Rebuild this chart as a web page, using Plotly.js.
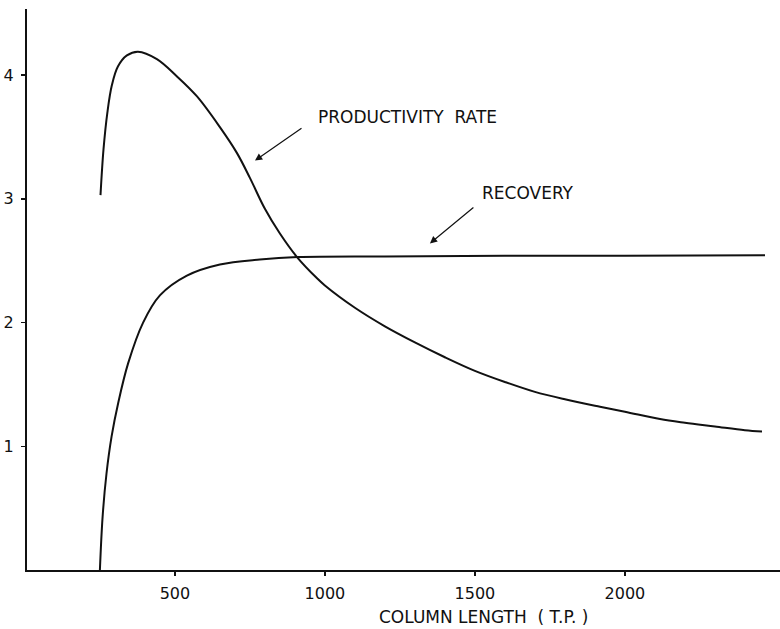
<!DOCTYPE html>
<html>
<head>
<meta charset="utf-8">
<script src="https://cdn.plot.ly/plotly-3.0.1.min.js"></script>
<style>html,body{margin:0;padding:0;background:#fff;}#chart{width:780px;height:629px;}</style>
</head>
<body>
<div id="chart"></div>
<script>
// Column length (theoretical plates) and curves
const prodX = [252, 262, 275, 290, 310, 340, 377, 440, 507, 573, 650, 707, 750, 800, 850, 907, 973, 1000, 1100, 1200, 1300, 1400, 1500, 1600, 1700, 1800, 1917, 2000, 2117, 2200, 2300, 2400, 2457];
const prodY = [3.03, 3.40, 3.70, 3.92, 4.07, 4.16, 4.19, 4.13, 3.99, 3.83, 3.58, 3.37, 3.17, 2.92, 2.72, 2.53, 2.36, 2.30, 2.12, 1.97, 1.84, 1.72, 1.61, 1.52, 1.44, 1.38, 1.32, 1.28, 1.22, 1.19, 1.16, 1.13, 1.12];
const recX = [250, 259, 272, 289, 311, 344, 394, 450, 540, 650, 783, 910, 1200, 1600, 2000, 2467];
const recY = [0, 0.43, 0.78, 1.08, 1.35, 1.67, 2.00, 2.22, 2.38, 2.47, 2.51, 2.53, 2.535, 2.54, 2.54, 2.545];
const xTicks = [500, 1000, 1500, 2000];
const yTicks = [1, 2, 3, 4];
const xTitle = "COLUMN LENGTH  ( T.P. )";
const prodLabel = "PRODUCTIVITY  RATE";
const recLabel = "RECOVERY";

const FONT = "DejaVu Sans, sans-serif";
const lineStyle = {color: "#111", width: 2, shape: "spline", smoothing: 1};

const traces = [
  {x: prodX, y: prodY, mode: "lines", line: lineStyle, hoverinfo: "skip"},
  {x: recX, y: recY, mode: "lines", line: lineStyle, hoverinfo: "skip"}
];

const layout = {
  width: 780, height: 629,
  margin: {l: 27, r: 0, t: 9, b: 59, pad: 0},
  paper_bgcolor: "#fff", plot_bgcolor: "#fff",
  showlegend: false,
  font: {family: FONT, size: 16, color: "#111"},
  xaxis: {
    range: [7, 2517], showgrid: false, zeroline: false,
    showline: true, linecolor: "#111", linewidth: 2,
    tickvals: xTicks, ticktext: xTicks.map(String),
    ticks: "outside", ticklen: 4, tickwidth: 1.5, tickcolor: "#111",
    ticklabelstandoff: 4,
    tickfont: {family: FONT, size: 16, color: "#111"}
  },
  yaxis: {
    range: [0, 4.535], showgrid: false, zeroline: false,
    showline: true, linecolor: "#111", linewidth: 2,
    tickvals: yTicks, ticktext: yTicks.map(String),
    ticks: "outside", ticklen: 4, tickwidth: 1.5, tickcolor: "#111",
    ticklabelstandoff: 4,
    tickfont: {family: FONT, size: 16, color: "#111"}
  },
  annotations: [
    {x: 1530, y: 0, xref: "x", yref: "y", yanchor: "top", yshift: -35,
     text: xTitle, showarrow: false, font: {family: FONT, size: 17, color: "#111"}},
    {x: 970, y: 3.66, xref: "x", yref: "y", xanchor: "left", yanchor: "middle",
     text: prodLabel, showarrow: false, font: {family: FONT, size: 17, color: "#111"}},
    {x: 767, y: 3.31, xref: "x", yref: "y", ax: 927, ay: 3.58, axref: "x", ayref: "y",
     text: "", showarrow: true, arrowhead: 2, arrowsize: 1.2, arrowwidth: 1.2, arrowcolor: "#111"},
    {x: 1517, y: 3.05, xref: "x", yref: "y", xanchor: "left", yanchor: "middle",
     text: recLabel, showarrow: false, font: {family: FONT, size: 17, color: "#111"}},
    {x: 1350, y: 2.64, xref: "x", yref: "y", ax: 1500, ay: 2.94, axref: "x", ayref: "y",
     text: "", showarrow: true, arrowhead: 2, arrowsize: 1.2, arrowwidth: 1.2, arrowcolor: "#111"}
  ]
};

Plotly.newPlot("chart", traces, layout, {staticPlot: true, displayModeBar: false});
</script>
</body>
</html>
